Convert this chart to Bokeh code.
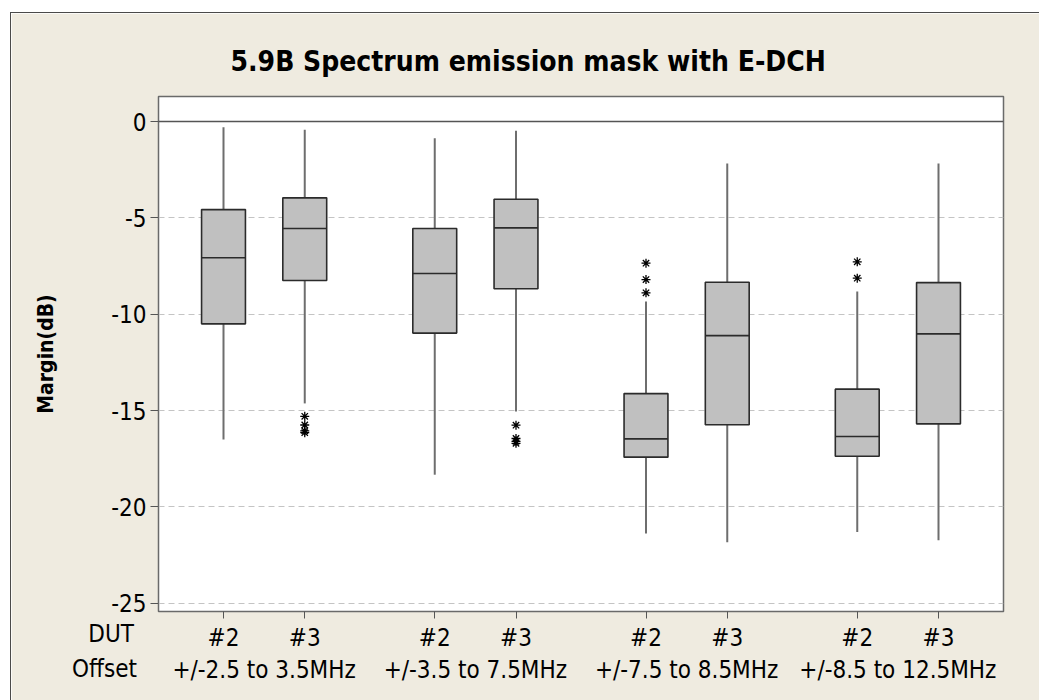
from bokeh.plotting import figure
from bokeh.models import (ColumnDataSource, FixedTicker, Span, Label, LinearAxis,
                          Range1d, Title)
from bokeh.embed import file_html
from bokeh.resources import INLINE

# ---- data -------------------------------------------------------------
offsets = ["+/-2.5 to 3.5MHz", "+/-3.5 to 7.5MHz", "+/-7.5 to 8.5MHz", "+/-8.5 to 12.5MHz"]
duts = ["#2", "#3"]

# one entry per box, offset-major, DUT-minor
whisker_hi = [-0.30, -0.43, -0.87, -0.48, -9.34, -2.18, -8.82, -2.18]
q3 = [-4.57, -3.96, -5.55, -4.03, -14.12, -8.34, -13.89, -8.36]
median = [-7.07, -5.55, -7.89, -5.52, -16.47, -11.11, -16.35, -11.02]
q1 = [-10.50, -8.25, -10.98, -8.68, -17.42, -15.74, -17.37, -15.69]
whisker_lo = [-16.50, -14.63, -18.33, -15.05, -21.38, -21.83, -21.31, -21.73]
outliers = [
    [],
    [-15.30, -15.75, -16.05, -16.15],
    [],
    [-15.76, -16.45, -16.60, -16.70],
    [-7.35, -8.20, -8.89],
    [],
    [-7.28, -8.13],
    [],
]

y_ticks = [0, -5, -10, -15, -20, -25]

# ---- layout helpers ---------------------------------------------------
GROUP_STEP = 2.6
BOX_W = 0.54
pos = [g * GROUP_STEP + j for g in range(len(offsets)) for j in range(len(duts))]
group_centers = [g * GROUP_STEP + 0.5 for g in range(len(offsets))]

FONT = "'DejaVu Sans Condensed', 'Liberation Sans', sans-serif"
BG = "#efebe0"
LABEL_SIZE = "24px"

p = figure(
    frame_width=845, frame_height=515,
    min_border_left=147, min_border_right=36, min_border_top=83, min_border_bottom=89,
    x_range=Range1d(-0.80, 9.60), y_range=Range1d(-25.43, 1.30),
    output_backend="svg", toolbar_location=None,
    background_fill_color="white", border_fill_color=BG,
    outline_line_color="#6a6a6a", outline_line_width=1.5,
    x_axis_location=None,
)
p.margin = (12, 0, 0, 10)
p.styles = {"border-left": "1px solid #4a4a4a", "border-top": "1px solid #4a4a4a"}

p.add_layout(Title(text="5.9B Spectrum emission mask with E-DCH", align="left", offset=72,
                   text_font=FONT, text_font_size="28px", text_font_style="bold",
                   text_color="black", standoff=38), "above")

# ---- grid / reference -------------------------------------------------
p.xgrid.visible = False
p.ygrid.ticker = FixedTicker(ticks=[t for t in y_ticks if t != 0])
p.ygrid.grid_line_color = "#c4c4c4"
p.ygrid.grid_line_dash = "6 4"
p.ygrid.grid_line_width = 1
p.add_layout(Span(location=0, dimension="width", line_color="#555555", line_width=1.5))

# ---- y axis -----------------------------------------------------------
ya = p.yaxis[0]
ya.ticker = FixedTicker(ticks=y_ticks)
ya.major_label_overrides = {t: str(t) for t in y_ticks}
ya.axis_label = "Margin(dB)"
ya.axis_label_text_font = FONT
ya.axis_label_text_font_size = "21px"
ya.axis_label_text_font_style = "bold"
ya.axis_label_text_color = "black"
ya.axis_label_standoff = 50
ya.major_label_text_font = FONT
ya.major_label_text_font_size = LABEL_SIZE
ya.major_label_text_color = "black"
ya.major_tick_out = 8
ya.major_tick_in = 0
ya.minor_tick_out = 0
ya.minor_tick_in = 0
ya.axis_line_color = None
ya.major_tick_line_color = "#555555"
ya.major_label_standoff = 4

# ---- x axes: DUT row and offset row ----------------------------------
xa = LinearAxis(ticker=FixedTicker(ticks=pos),
                major_label_overrides={x: duts[i % 2] for i, x in enumerate(pos)})
xa.axis_line_color = None
xa.major_tick_out = 7
xa.major_tick_in = 0
xa.minor_tick_out = 0
xa.major_tick_line_color = "#555555"
xa.major_label_text_font = FONT
xa.major_label_text_font_size = LABEL_SIZE
xa.major_label_text_color = "black"
xa.major_label_standoff = 5
p.add_layout(xa, "below")

xb = LinearAxis(ticker=FixedTicker(ticks=group_centers),
                major_label_overrides={x: offsets[i] for i, x in enumerate(group_centers)})
xb.axis_line_color = None
xb.major_tick_line_color = None
xb.minor_tick_line_color = None
xb.major_label_text_font = FONT
xb.major_label_text_font_size = LABEL_SIZE
xb.major_label_text_color = "black"
xb.major_label_standoff = -5
p.add_layout(xb, "below")

# row captions left of the category axes; placed in a side panel so they are not
# clipped to the plotting frame
for txt, yv, xv in (("DUT", -26.62, -1.103), ("Offset", -28.39, -1.066)):
    p.add_layout(Label(x=xv, y=yv, text=txt, text_align="right", text_baseline="middle",
                       text_font=FONT, text_font_size=LABEL_SIZE, text_color="black"),
                 "below")

# ---- boxes ------------------------------------------------------------
src = ColumnDataSource(dict(x=pos, lo=whisker_lo, q1=q1, med=median, q3=q3, hi=whisker_hi,
                            left=[x - BOX_W / 2 for x in pos], right=[x + BOX_W / 2 for x in pos]))
p.segment(x0="x", y0="q3", x1="x", y1="hi", source=src, line_color="#6e6e6e", line_width=2)
p.segment(x0="x", y0="lo", x1="x", y1="q1", source=src, line_color="#6e6e6e", line_width=2)
p.quad(left="left", right="right", bottom="q1", top="q3", source=src,
       fill_color="#c0c0c0", line_color="#2b2b2b", line_width=1.6)
p.segment(x0="left", y0="med", x1="right", y1="med", source=src,
          line_color="#2b2b2b", line_width=1.6)

ox = [pos[i] for i, vals in enumerate(outliers) for _ in vals]
oy = [v for vals in outliers for v in vals]
p.scatter(ox, oy, marker="asterisk", size=9, line_color="black", line_width=1.3)

open("out.html", "w").write(file_html(p, INLINE))
